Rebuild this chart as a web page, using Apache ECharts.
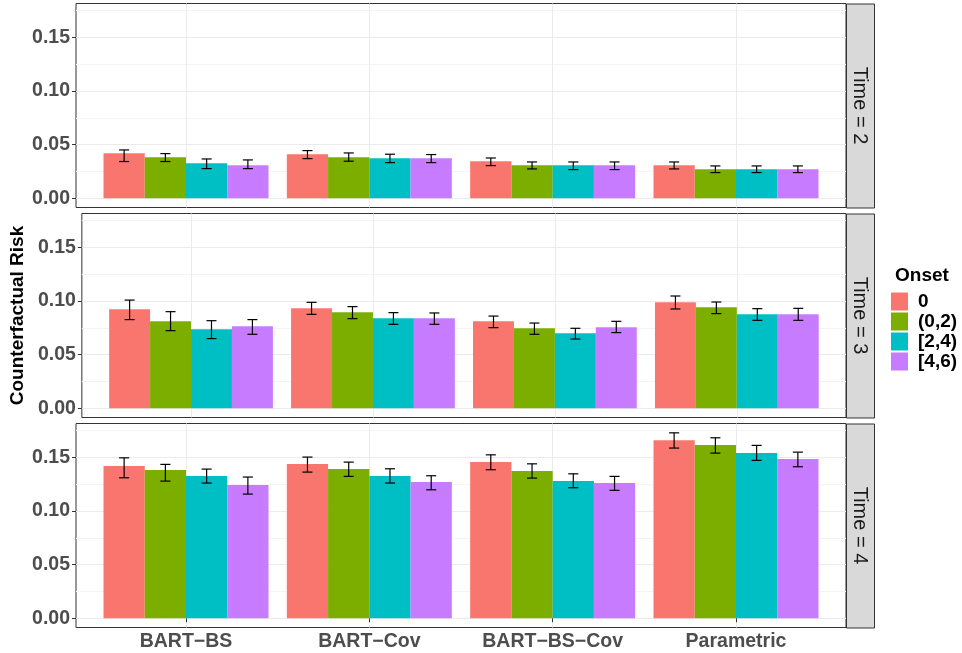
<!DOCTYPE html>
<html>
<head>
<meta charset="UTF-8">
<title>Counterfactual Risk</title>
<script type="text/javascript" src="https://cdn.jsdelivr.net/npm/echarts@6/dist/echarts.min.js"></script>
</head>
<body style="margin:0;background:#fff;">
<div id="mychar" style="width:962px;height:653px;"></div>

<script type="text/javascript">

// categories
var methods = ['BART\u2212BS', 'BART\u2212Cov', 'BART\u2212BS\u2212Cov', 'Parametric'];
var onsets = ['0', '(0,2)', '[2,4)', '[4,6)'];
var times = ['Time = 2', 'Time = 3', 'Time = 4'];
var yTicks = [0, 0.05, 0.10, 0.15];
var yMinor = [0.025, 0.075, 0.125, 0.175];

// estimates, one row per onset, one value per method
var est_t2 = [[0.0419, 0.0410, 0.0345, 0.0307], [0.0382, 0.0382, 0.0307, 0.0270], [0.0326, 0.0372, 0.0307, 0.0270], [0.0307, 0.0372, 0.0307, 0.0270]];
var lo_t2  = [[0.0342, 0.0369, 0.0304, 0.0273], [0.0342, 0.0345, 0.0273, 0.0239], [0.0276, 0.0332, 0.0267, 0.0239], [0.0276, 0.0332, 0.0267, 0.0239]];
var hi_t2  = [[0.0450, 0.0444, 0.0375, 0.0338], [0.0416, 0.0422, 0.0338, 0.0301], [0.0366, 0.0410, 0.0338, 0.0301], [0.0357, 0.0407, 0.0338, 0.0301]];

var est_t3 = [[0.0922, 0.0931, 0.0810, 0.0987], [0.0810, 0.0894, 0.0745, 0.0940], [0.0736, 0.0838, 0.0698, 0.0875], [0.0763, 0.0838, 0.0754, 0.0875]];
var lo_t3  = [[0.0826, 0.0875, 0.0751, 0.0925], [0.0723, 0.0835, 0.0689, 0.0882], [0.0649, 0.0782, 0.0645, 0.0819], [0.0689, 0.0782, 0.0705, 0.0819]];
var hi_t3  = [[0.1008, 0.0987, 0.0859, 0.1046], [0.0900, 0.0947, 0.0794, 0.0990], [0.0816, 0.0891, 0.0745, 0.0928], [0.0826, 0.0888, 0.0810, 0.0931]];

var est_t4 = [[0.1418, 0.1437, 0.1455, 0.1660], [0.1381, 0.1390, 0.1372, 0.1614], [0.1325, 0.1325, 0.1278, 0.1539], [0.1241, 0.1269, 0.1260, 0.1483]];
var lo_t4  = [[0.1309, 0.1362, 0.1384, 0.1586], [0.1278, 0.1322, 0.1306, 0.1539], [0.1260, 0.1260, 0.1216, 0.1471], [0.1157, 0.1197, 0.1192, 0.1412]];
var hi_t4  = [[0.1495, 0.1502, 0.1523, 0.1728], [0.1434, 0.1455, 0.1439, 0.1682], [0.1390, 0.1393, 0.1346, 0.1611], [0.1316, 0.1328, 0.1322, 0.1548]];

var colors = ['#F8766D', '#7CAE00', '#00BFC4', '#C77CFF'];

var panels = [[est_t2, lo_t2, hi_t2], [est_t3, lo_t3, hi_t3], [est_t4, lo_t4, hi_t4]];

var FONT = 'Liberation Sans';
var panelLeft = 76, panelWidth = 770, panelH = 204;
var panelTops = [3.5, 213.5, 423.5];
var yMin = -0.00865, yMax = 0.1815;

var mychart = echarts.init(document.getElementById('mychar'));

var grids = [], xAxes = [], yAxes = [], series = [], graphics = [];

panelTops.forEach(function (top, p) {
  grids.push({left: panelLeft, width: panelWidth, top: top, height: panelH,
    show: true, borderColor: '#333333', borderWidth: 1, backgroundColor: '#fff'});

  var last = p === panelTops.length - 1;
  xAxes.push({
    type: 'value', gridIndex: p, min: 0.4, max: 4.6,
    axisLine: {show: false},
    axisTick: {show: last, customValues: [1, 2, 3, 4], length: 4, lineStyle: {color: '#333333'}},
    axisLabel: {show: last, customValues: [1, 2, 3, 4], margin: 4,
      formatter: function (v) { return methods[Math.round(v) - 1]; },
      fontFamily: FONT, fontWeight: 'bold', fontSize: 19.5, color: '#4D4D4D'},
    splitLine: {show: true, lineStyle: {color: '#EBEBEB', width: 1}}
  });

  // major axis
  yAxes.push({
    type: 'value', gridIndex: p, min: yMin, max: yMax,
    name: p === 1 ? 'Counterfactual Risk' : '',
    nameLocation: 'middle', nameGap: 50,
    nameTextStyle: {fontFamily: FONT, fontWeight: 'bold', fontSize: 19, color: '#000'},
    axisLine: {show: false},
    axisTick: {show: true, customValues: yTicks, length: 4, lineStyle: {color: '#333333'}},
    axisLabel: {customValues: yTicks, margin: 6,
      formatter: function (v) { return v.toFixed(2); },
      fontFamily: FONT, fontWeight: 'bold', fontSize: 19.5, color: '#4D4D4D'},
    splitLine: {show: true, lineStyle: {color: '#EBEBEB', width: 1}}
  });
  // minor grid lines
  yAxes.push({
    type: 'value', gridIndex: p, min: yMin, max: yMax, position: 'left',
    axisLine: {show: false},
    axisTick: {show: false, customValues: yMinor},
    axisLabel: {show: false},
    splitLine: {show: true, lineStyle: {color: '#F4F4F4', width: 1}}
  });

  var est = panels[p][0], lo = panels[p][1], hi = panels[p][2];
  onsets.forEach(function (name, k) {
    var data = methods.map(function (m, i) {
      return [i + 1, est[k][i], lo[k][i], hi[k][i]];
    });
    series.push({
      name: name, type: 'custom', xAxisIndex: p, yAxisIndex: p * 2,
      itemStyle: {color: colors[k]},
      encode: {x: 0, y: 1},
      data: data,
      renderItem: function (params, api) {
        var xc = api.value(0) + (k - 1.5) * 0.225;
        var p0 = api.coord([xc - 0.1125, 0]);
        var p1 = api.coord([xc + 0.1125, api.value(1)]);
        var t = api.coord([xc, api.value(3)]);
        var b = api.coord([xc, api.value(2)]);
        var cw = api.coord([xc + 0.0275, 0])[0] - t[0];
        var ls = {stroke: '#000', lineWidth: 1.2};
        return {
          type: 'group',
          children: [
            {type: 'rect', shape: {x: p0[0], y: p1[1], width: p1[0] - p0[0], height: p0[1] - p1[1]},
             style: {fill: colors[k]}},
            {type: 'line', shape: {x1: t[0], y1: t[1], x2: b[0], y2: b[1]}, style: ls, z2: 10},
            {type: 'line', shape: {x1: t[0] - cw, y1: t[1], x2: t[0] + cw, y2: t[1]}, style: ls, z2: 10},
            {type: 'line', shape: {x1: b[0] - cw, y1: b[1], x2: b[0] + cw, y2: b[1]}, style: ls, z2: 10}
          ]
        };
      }
    });
  });

  // facet strip
  graphics.push({
    type: 'rect', left: panelLeft + panelWidth, top: top,
    shape: {width: 28, height: panelH},
    style: {fill: '#D9D9D9', stroke: '#333333', lineWidth: 1}
  });
  graphics.push({
    type: 'text', x: panelLeft + panelWidth + 14, y: top + panelH / 2, rotation: -Math.PI / 2,
    style: {text: times[p], fontFamily: FONT, fontSize: 20, fill: '#1A1A1A', align: 'center', verticalAlign: 'middle'}
  });
});

var option = {
  animation: false,
  title: {text: 'Onset', left: 890, top: 261,
    textStyle: {fontFamily: FONT, fontWeight: 'bold', fontSize: 19, color: '#000'}},
  legend: {
    data: onsets, orient: 'vertical', left: 891, top: 292,
    padding: 0, itemWidth: 17, itemHeight: 18, itemGap: 1, icon: 'rect',
    selectedMode: false,
    textStyle: {fontFamily: FONT, fontWeight: 'bold', fontSize: 19, color: '#000', padding: [0, 0, 0, 5]}
  },
  grid: grids,
  xAxis: xAxes,
  yAxis: yAxes,
  series: series,
  graphic: graphics
};

mychart.setOption(option);
</script>
</body>
</html>
